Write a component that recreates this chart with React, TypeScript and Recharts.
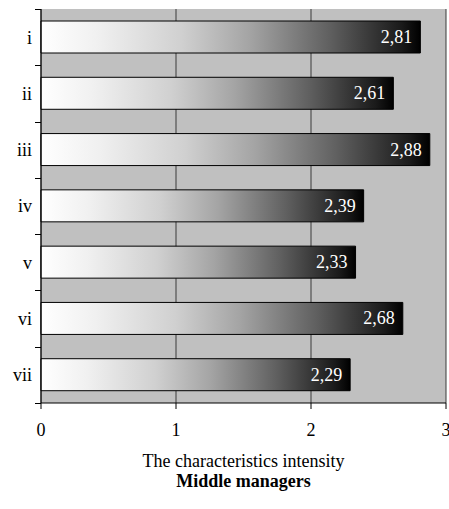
import React from 'react';
import {
  BarChart,
  Bar,
  XAxis,
  YAxis,
  CartesianGrid,
  LabelList,
} from 'recharts';

const categories = ['i', 'ii', 'iii', 'iv', 'v', 'vi', 'vii'];
const values = [2.81, 2.61, 2.88, 2.39, 2.33, 2.68, 2.29];
const xTicks = [0, 1, 2, 3];

const xTitle = 'The characteristics intensity';
const chartTitle = 'Middle managers';

const FONT = '"Liberation Serif", "Times New Roman", serif';
const TICK_SIZE = 6;
const TICK_MARGIN = 3;

const data = categories.map((name, i) => ({ name, value: values[i] }));

// white text at the right end of each bar, decimal comma
const renderValue = (props: any) => {
  const { x, y, width, height, value } = props;
  return (
    <text
      x={x + width - 8}
      y={y + height / 2 + 6}
      fill="#ffffff"
      textAnchor="end"
      fontFamily={FONT}
      fontSize={18}
    >
      {Number(value).toFixed(2).replace('.', ',')}
    </text>
  );
};

// category label, with tick marks on the band edges instead of the band centre
const CategoryTick = (props: any) => {
  const { x, y, payload } = props;
  const edge = x + TICK_SIZE + TICK_MARGIN;
  const half = payload && typeof payload.offset === 'number' ? payload.offset : 28;
  const top = Math.round(y - half) + 0.5;
  const bottom = Math.round(y + half) + 0.5;
  return (
    <g>
      <line x1={edge - TICK_SIZE} x2={edge} y1={top} y2={top} stroke="#000" strokeWidth={1} />
      <line x1={edge - TICK_SIZE} x2={edge} y1={bottom} y2={bottom} stroke="#000" strokeWidth={1} />
      <text x={x} y={y} dy="0.355em" textAnchor="end" fill="#000" fontFamily={FONT} fontSize={18}>
        {payload.value}
      </text>
    </g>
  );
};

const NoText = () => <g />;

const App: React.FC = () => {
  return (
    <div style={{ position: 'absolute', left: 0, top: 0, width: 449, height: 509, background: '#fff' }}>
      <BarChart
        width={449}
        height={509}
        data={data}
        layout="vertical"
        margin={{ top: 9, right: 3, bottom: 76, left: 0 }}
        barSize={32}
      >
        <defs>
          <linearGradient id="barGrad" x1="0" y1="0" x2="1" y2="0">
            <stop offset="0" stopColor="#ffffff" />
            <stop offset="0.15" stopColor="#f0f0f0" />
            <stop offset="0.37" stopColor="#d0d0d0" />
            <stop offset="0.55" stopColor="#a4a4a4" />
            <stop offset="0.76" stopColor="#606060" />
            <stop offset="0.95" stopColor="#1a1a1a" />
            <stop offset="1" stopColor="#000000" />
          </linearGradient>
        </defs>
        <CartesianGrid
          fill="#c0c0c0"
          fillOpacity={1}
          horizontal={false}
          stroke="#3a3a3a"
          strokeWidth={1}
        />
        <XAxis
          type="number"
          domain={[0, 3]}
          ticks={xTicks}
          interval={0}
          height={30}
          axisLine={{ stroke: '#000' }}
          tickLine={{ stroke: '#000' }}
          tickSize={6}
          tickMargin={14}
          tick={{ fill: '#000', fontFamily: FONT, fontSize: 18 }}
        />
        <XAxis
          xAxisId="top"
          orientation="top"
          type="number"
          domain={[0, 3]}
          ticks={xTicks}
          height={0}
          tick={NoText}
          tickLine={false}
          axisLine={{ stroke: '#3a3a3a' }}
        />
        <YAxis
          type="category"
          dataKey="name"
          width={41}
          axisLine={{ stroke: '#000' }}
          tickLine={{ stroke: 'none' }}
          tickSize={TICK_SIZE}
          tickMargin={TICK_MARGIN}
          interval={0}
          tick={CategoryTick}
        />
        <YAxis
          yAxisId="right"
          orientation="right"
          type="category"
          dataKey="name"
          width={0}
          tick={NoText}
          tickLine={false}
          axisLine={{ stroke: '#3a3a3a' }}
        />
        <Bar
          dataKey="value"
          fill="url(#barGrad)"
          stroke="#000"
          strokeWidth={1}
          isAnimationActive={false}
        >
          <LabelList dataKey="value" content={renderValue} />
        </Bar>
      </BarChart>
      <div
        style={{
          position: 'absolute',
          left: 41,
          width: 405,
          top: 452,
          textAlign: 'center',
          fontFamily: FONT,
          fontSize: 18,
          lineHeight: '18px',
        }}
      >
        {xTitle}
      </div>
      <div
        style={{
          position: 'absolute',
          left: 41,
          width: 405,
          top: 472,
          textAlign: 'center',
          fontFamily: FONT,
          fontSize: 18,
          lineHeight: '18px',
          fontWeight: 'bold',
        }}
      >
        {chartTitle}
      </div>
    </div>
  );
};

export default App;
